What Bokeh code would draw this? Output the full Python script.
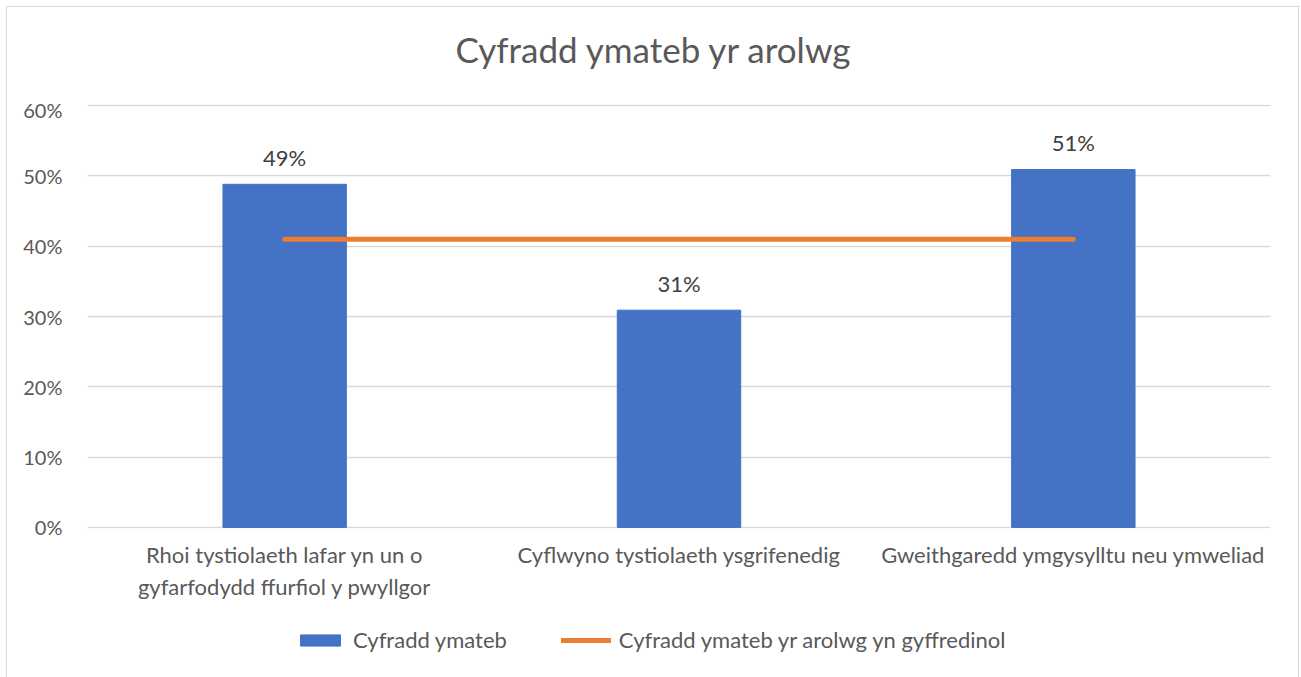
from bokeh.plotting import figure
from bokeh.layouts import column
from bokeh.models import (ColumnDataSource, FactorRange, Range1d, FixedTicker,
                          NumeralTickFormatter, LabelSet, Legend, LegendItem, Label)
from bokeh.core.properties import value
from bokeh.embed import file_html
from bokeh.resources import INLINE

# ---- data ----
categories = [
    "Rhoi tystiolaeth lafar yn un o\ngyfarfodydd ffurfiol y pwyllgor",
    "Cyflwyno tystiolaeth ysgrifenedig",
    "Gweithgaredd ymgysylltu neu ymweliad",
]
response_rate = [0.488, 0.309, 0.509]
overall_rate = 0.41
y_ticks = [0.0, 0.1, 0.2, 0.3, 0.4, 0.5, 0.6]
series_names = ["Cyfradd ymateb", "Cyfradd ymateb yr arolwg yn gyffredinol"]
title_text = "Cyfradd ymateb yr arolwg"

FONT = "Lato"
TXT = "#595959"
BLUE = "#4472C4"
ORANGE = "#ED7D31"
W = 1291

src = ColumnDataSource(dict(
    cat=categories,
    val=response_rate,
    lab=[f"{round(v * 100)}%" for v in response_rate],
))
line_src = ColumnDataSource(dict(
    x=[categories[0], categories[-1]],
    y=[overall_rate, overall_rate],
))

def bare(fig):
    fig.outline_line_color = None
    fig.xgrid.grid_line_color = None
    fig.ygrid.grid_line_color = None
    fig.background_fill_color = "white"
    fig.border_fill_color = "white"

# ---- title strip (its frame is aligned with the chart frame by the column) ----
p0 = figure(width=W, height=90, x_range=Range1d(0, 1), y_range=Range1d(0, 1),
            output_backend="svg", toolbar_location=None,
            x_axis_type=None, y_axis_type=None,
            min_border_left=0, min_border_right=0, min_border_top=0, min_border_bottom=0)
bare(p0)
p0.add_layout(Label(x=0.479, y=0.535, text=title_text, text_align="center",
                    text_baseline="middle", text_font=FONT,
                    text_font_size="35px", text_color=TXT))

# ---- main chart ----
p = figure(
    x_range=FactorRange(*categories),
    y_range=Range1d(-0.0015, 0.6015),
    width=W, height=510,
    output_backend="svg", toolbar_location=None,
    min_border_left=80, min_border_right=28,
    min_border_top=7, min_border_bottom=79,
)
p.outline_line_color = None
p.background_fill_color = "white"
p.border_fill_color = "white"

p.vbar(x="cat", top="val", width=0.313, source=src,
       fill_color=BLUE, line_color=BLUE)
p.line(x="x", y="y", source=line_src,
       line_color=ORANGE, line_width=5, line_cap="round")

labels = LabelSet(x="cat", y="val", text="lab", source=src,
                  y_offset=27, text_align="center", text_baseline="middle",
                  text_font=value(FONT), text_font_size=value("22px"),
                  text_color="#404040")
p.add_layout(labels)

p.yaxis.ticker = FixedTicker(ticks=y_ticks)
p.yaxis.formatter = NumeralTickFormatter(format="0%")
for ax in (p.xaxis[0], p.yaxis[0]):
    ax.axis_line_color = None
    ax.major_tick_line_color = None
    ax.minor_tick_line_color = None
    ax.major_label_text_font = FONT
    ax.major_label_text_color = TXT
p.xaxis.major_label_text_font_size = "22px"
p.yaxis.major_label_text_font_size = "20px"
p.yaxis.major_label_standoff = 19
p.xaxis.major_label_standoff = 6

p.xgrid.grid_line_color = None
p.ygrid.grid_line_color = "#d9d9d9"
p.ygrid.grid_line_width = 1.5

# ---- legend strip (series drawn out of view, only their legend shows) ----
p2 = figure(width=W, height=70, x_range=p.x_range, y_range=Range1d(10, 11),
            output_backend="svg", toolbar_location=None,
            x_axis_type=None, y_axis_type=None,
            min_border_left=0, min_border_right=0, min_border_top=0, min_border_bottom=0)
bare(p2)
lb = p2.vbar(x="cat", top="val", width=0.313, source=src,
             fill_color=BLUE, line_color=BLUE)
ll = p2.line(x="x", y="y", source=line_src,
             line_color=ORANGE, line_width=5, line_cap="round")
legend = Legend(items=[
    LegendItem(label=series_names[0], renderers=[lb]),
    LegendItem(label=series_names[1], renderers=[ll]),
], orientation="horizontal", location=(208, 24),
    glyph_width=50, glyph_height=14, label_standoff=8, spacing=54,
    label_text_font=FONT, label_text_font_size="22px", label_text_color=TXT,
    border_line_color=None, background_fill_alpha=0)
p2.add_layout(legend)

layout = column(p0, p, p2, spacing=0)
layout.styles = {"margin": "6px 0 0 6px", "border": "1px solid #d9d9d9",
                 "border-bottom": "none"}

open("out.html", "w").write(file_html(layout, INLINE))
